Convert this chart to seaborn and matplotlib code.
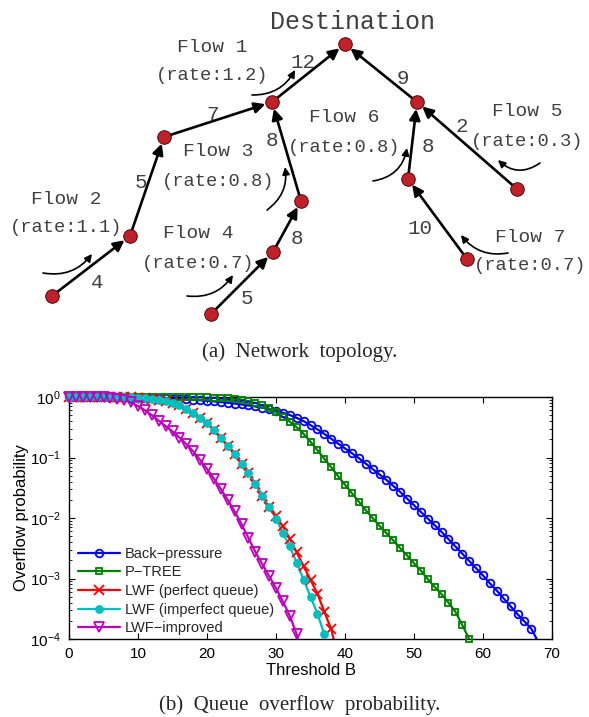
import numpy as np
import pandas as pd
import seaborn as sns
import matplotlib.pyplot as plt
from matplotlib.lines import Line2D

# ---------------------------------------------------------------
# (b) queue overflow probability, log10 values
#     one value per threshold B = 0, 1, 2, ...
# ---------------------------------------------------------------
back_pressure = [-0.002, -0.002, -0.003, -0.003, -0.004, -0.005, -0.006, -0.007, -0.008, -0.010,
                 -0.012, -0.014, -0.017, -0.020, -0.024, -0.028, -0.033, -0.039, -0.046, -0.054,
                 -0.063, -0.073, -0.084, -0.096, -0.109, -0.123, -0.139, -0.157, -0.177, -0.200,
                 -0.228, -0.260, -0.298, -0.345, -0.400, -0.465, -0.535, -0.610, -0.690, -0.770,
                 -0.850, -0.930, -1.010, -1.100, -1.190, -1.280, -1.370, -1.470, -1.570, -1.680,
                 -1.790, -1.900, -2.010, -2.120, -2.230, -2.350, -2.470, -2.590, -2.710, -2.830,
                 -2.950, -3.080, -3.200, -3.330, -3.460, -3.590, -3.710, -3.830, -4.050]
p_tree = [-0.001, -0.001, -0.001, -0.001, -0.001, -0.001, -0.001, -0.001, -0.001, -0.001,
          -0.001, -0.001, -0.001, -0.001, -0.001, -0.001, -0.002, -0.003, -0.004, -0.006,
          -0.008, -0.011, -0.015, -0.021, -0.030, -0.045, -0.068, -0.100, -0.140, -0.190,
          -0.255, -0.330, -0.410, -0.500, -0.610, -0.740, -0.880, -1.020, -1.160, -1.310,
          -1.450, -1.590, -1.730, -1.870, -2.000, -2.130, -2.250, -2.370, -2.500, -2.620,
          -2.750, -2.870, -3.010, -3.140, -3.260, -3.400, -3.550, -3.770, -4.000]
lwf_perfect = [-0.001, -0.001, -0.001, -0.001, -0.002, -0.002, -0.003, -0.004, -0.005, -0.007,
               -0.010, -0.016, -0.026, -0.042, -0.068, -0.100, -0.140, -0.200, -0.270, -0.340,
               -0.430, -0.550, -0.680, -0.810, -0.950, -1.100, -1.260, -1.430, -1.630, -1.810,
               -1.970, -2.140, -2.340, -2.570, -2.800, -3.020, -3.250, -3.550, -3.840, -4.300]
lwf_imperfect = [-0.001, -0.001, -0.001, -0.001, -0.002, -0.002, -0.003, -0.004, -0.005, -0.007,
                 -0.010, -0.016, -0.026, -0.042, -0.068, -0.100, -0.140, -0.200, -0.270, -0.340,
                 -0.430, -0.550, -0.680, -0.810, -0.950, -1.100, -1.260, -1.430, -1.630, -1.820,
                 -2.010, -2.250, -2.470, -2.740, -3.020, -3.300, -3.580, -3.920, -4.500]
lwf_improved = [-0.001, -0.001, -0.002, -0.003, -0.004, -0.006, -0.010, -0.025, -0.050, -0.090,
                -0.150, -0.220, -0.300, -0.390, -0.480, -0.570, -0.670, -0.780, -0.900, -1.040,
                -1.190, -1.350, -1.520, -1.700, -1.890, -2.100, -2.330, -2.560, -2.760, -2.960,
                -3.160, -3.380, -3.620, -3.920, -4.500]

series_names = ['Back\u2212pressure', 'P\u2212TREE', 'LWF (perfect queue)',
                'LWF (imperfect queue)', 'LWF\u2212improved']
series_vals = [back_pressure, p_tree, lwf_perfect, lwf_imperfect, lwf_improved]
x_ticks = [0, 10, 20, 30, 40, 50, 60, 70]

# ---------------------------------------------------------------
# (a) network topology (pixel positions in the picture)
# ---------------------------------------------------------------
nodes = {'s2': (52, 296), 'n2': (130, 236), 'n3': (164, 137), 'n1': (272, 102),
         'dst': (345, 44), 's4': (211, 314), 'n4': (273, 252), 'n6': (301, 201),
         'n9': (417, 102), 'n8': (408, 179), 's7': (467, 259), 's5': (517, 189)}
links = [('s2', 'n2'), ('n2', 'n3'), ('n3', 'n1'), ('n1', 'dst'), ('s4', 'n4'),
         ('n4', 'n6'), ('n6', 'n1'), ('n9', 'dst'), ('n8', 'n9'), ('s7', 'n8'), ('s5', 'n9')]
link_labels = ['4', '5', '7', '12', '5', '8', '8', '9', '8', '10', '2']
link_label_xy = [(97, 283), (141, 183), (213, 115), (303, 62), (247, 299), (297, 238),
                 (272, 141), (403, 79), (428, 147), (420, 228), (462, 126)]
flow_names = ['Flow 1', 'Flow 2', 'Flow 3', 'Flow 4', 'Flow 5', 'Flow 6', 'Flow 7']
flow_rates = ['(rate:1.2)', '(rate:1.1)', '(rate:0.8)', '(rate:0.7)',
              '(rate:0.3)', '(rate:0.8)', '(rate:0.7)']
flow_text_xy = [(212, 47), (66, 199), (218, 152), (198, 234), (527, 112), (344, 118), (530, 237)]
flow_arrow_from = [(252, 95), (43, 273), (267, 210), (187, 296), (540, 163), (373, 181), (508, 253)]
flow_arrow_to = [(295, 70), (92, 254), (285, 167), (233, 275), (498, 160), (407, 148), (461, 235)]
flow_arrow_rad = [0.3, 0.3, 0.3, 0.3, -0.4, 0.35, -0.3]

sns.set_theme(style='ticks')
plt.rcParams['font.family'] = ['Liberation Sans', 'DejaVu Sans']

fig = plt.figure(figsize=(5.89, 7.17), dpi=100)
fig.patch.set_facecolor('white')

# ---- network drawing, one data unit = one pixel
ax0 = fig.add_axes([0, 0, 1, 1])
ax0.set_xlim(0, 589)
ax0.set_ylim(717, 0)
ax0.axis('off')

txt_col = '#404040'
mono = ['Liberation Mono', 'DejaVu Sans Mono']

for (a, b), lab, (lx, ly) in zip(links, link_labels, link_label_xy):
    ax0.annotate('', xy=nodes[b], xytext=nodes[a],
                 arrowprops=dict(arrowstyle='-|>', color='black', lw=1.9,
                                 mutation_scale=16, shrinkA=4, shrinkB=5))
    ax0.text(lx, ly, lab, ha='center', va='center', fontsize=15,
             family=mono, color=txt_col)

nx = [p[0] for p in nodes.values()]
ny = [p[1] for p in nodes.values()]
ax0.scatter(nx, ny, s=95, color='#c1202a', edgecolor='#4a0a0a', linewidth=0.7, zorder=5)

for name, rate, (tx, ty), p0, p1, rad in zip(flow_names, flow_rates, flow_text_xy,
                                              flow_arrow_from, flow_arrow_to, flow_arrow_rad):
    ax0.text(tx, ty, name, ha='center', va='center', fontsize=14, family=mono, color=txt_col)
    ax0.text(tx, ty + 29, rate, ha='center', va='center', fontsize=13.5, family=mono, color=txt_col)
    ax0.annotate('', xy=p1, xytext=p0,
                 arrowprops=dict(arrowstyle='-|>', color='black', lw=1.2, mutation_scale=11,
                                 shrinkA=0, shrinkB=0, connectionstyle=f'arc3,rad={rad}'))

ax0.text(353, 22, 'Destination', ha='center', va='center', fontsize=18, family=mono, color=txt_col)

serif = ['Liberation Serif', 'DejaVu Serif']
ax0.text(300, 352, '(a)  Network  topology.', ha='center', va='center', fontsize=15, family=serif)
ax0.text(300, 705, '(b)  Queue  overflow  probability.', ha='center', va='center',
         fontsize=15, family=serif)

# ---- overflow probability plot
ax = fig.add_axes([69 / 589, 1 - 639 / 717, 483 / 589, 242 / 717])
ax.set_facecolor('white')

colors = ['#0000ff', '#008000', '#ff0000', '#00bfbf', '#bf00bf']
markers = ['o', 's', 'x', 'o', 'v']
msizes = [5.5, 5, 6.5, 5, 6.5]
mfaces = ['none', 'none', 'none', '#00bfbf', 'none']

rows = []
for name, vals in zip(series_names, series_vals):
    for b, v in enumerate(vals):
        rows.append({'series': name, 'B': b, 'p': 10 ** v})
df = pd.DataFrame(rows)

handles = []
for name, c, m, ms, mf in zip(series_names, colors, markers, msizes, mfaces):
    sub = df[df['series'] == name]
    sns.lineplot(data=sub, x='B', y='p', color=c, lw=1.6, ax=ax, legend=False)
    inside = sub[sub['p'] >= 1e-4 * 0.999]
    ax.plot(inside['B'], inside['p'], ls='none', marker=m, ms=ms, mfc=mf, mec=c,
            mew=1.3, clip_on=False, zorder=3)
    handles.append(Line2D([], [], color=c, lw=1.6, marker=m, ms=ms, mfc=mf, mec=c, mew=1.3))

ax.set_yscale('log')
ax.set_xlim(0, 70)
ax.set_ylim(1e-4, 1)
ax.set_xticks(x_ticks)
ax.set_yticks([1e-4, 1e-3, 1e-2, 1e-1, 1])
ax.tick_params(which='both', direction='in', top=True, right=True, color='black',
               labelsize=11, labelcolor='black')
ax.tick_params(which='major', length=4, width=0.8, pad=6)
ax.tick_params(which='minor', length=2, width=0.6)
for s in ax.spines.values():
    s.set_color('black')
    s.set_linewidth(1.0)
ax.set_xlabel('Threshold B', fontsize=12, color='black', labelpad=1)
ax.set_ylabel('Overflow probability', fontsize=12, color='black')
ax.yaxis.set_label_coords(-0.083, 0.5)

ax.legend(handles, series_names, loc='lower left', bbox_to_anchor=(0.019, 0.015),
          frameon=False, fontsize=10.5, handlelength=2.9, handletextpad=0.3,
          labelspacing=0.32, borderpad=0, borderaxespad=0)

fig.savefig('out.png', dpi=100, facecolor='white')
